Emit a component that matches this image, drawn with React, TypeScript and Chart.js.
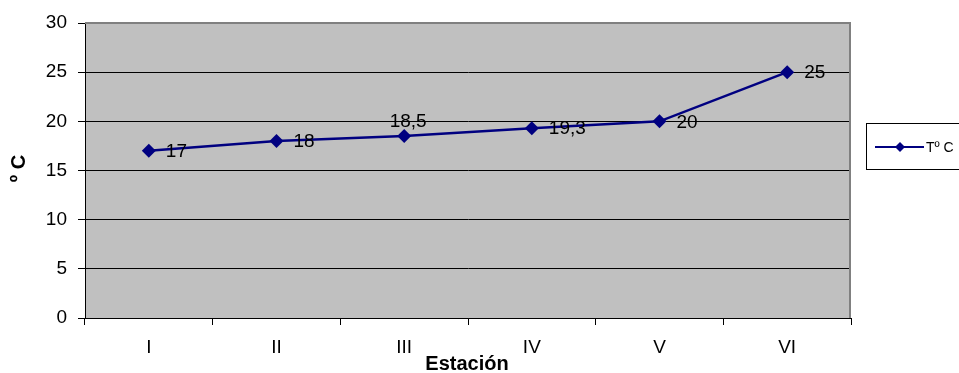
import React, { useEffect, useRef } from 'react';
import { Chart, registerables } from 'chart.js';

Chart.register(...registerables);

// ---- Data ----
const categories = ['I', 'II', 'III', 'IV', 'V', 'VI'];
const temperatures = [17, 18, 18.5, 19.3, 20, 25];
const valueLabels = ['17', '18', '18,5', '19,3', '20', '25'];
const yMin = 0;
const yMax = 30;
const yStep = 5;
const seriesName = 'Tº C';
const xTitle = 'Estación';
const yTitle = 'º C';

const FONT = '"Liberation Sans", Arial, Helvetica, sans-serif';
const NAVY = '#000080';

function drawDiamond(ctx: CanvasRenderingContext2D, x: number, y: number, r: number) {
  ctx.beginPath();
  ctx.moveTo(x, y - r);
  ctx.lineTo(x + r, y);
  ctx.lineTo(x, y + r);
  ctx.lineTo(x - r, y);
  ctx.closePath();
  ctx.fill();
}

const decorPlugin = {
  id: 'decor',
  beforeDraw(chart: any) {
    const { ctx, chartArea: a } = chart;
    ctx.save();
    ctx.fillStyle = '#ffffff';
    ctx.fillRect(0, 0, chart.width, chart.height);
    ctx.fillStyle = '#C0C0C0';
    ctx.fillRect(a.left, a.top, a.right - a.left, a.bottom - a.top);
    ctx.restore();
  },
  beforeDatasetsDraw(chart: any) {
    const { ctx, chartArea: a } = chart;
    ctx.save();
    ctx.strokeStyle = '#808080';
    ctx.lineWidth = 2;
    ctx.beginPath();
    ctx.moveTo(a.left, a.top);
    ctx.lineTo(a.right - 1, a.top);
    ctx.lineTo(a.right - 1, a.bottom);
    ctx.stroke();
    ctx.restore();
  },
  afterDatasetsDraw(chart: any) {
    const { ctx, chartArea: a } = chart;
    const meta = chart.getDatasetMeta(0);
    ctx.save();
    // data labels
    ctx.fillStyle = '#000';
    ctx.font = `19px ${FONT}`;
    ctx.textBaseline = 'middle';
    meta.data.forEach((pt: any, i: number) => {
      const label = valueLabels[i];
      if (i === 2) {
        ctx.textAlign = 'center';
        ctx.fillText(label, pt.x + 4, pt.y - 14);
      } else {
        ctx.textAlign = 'left';
        ctx.fillText(label, pt.x + 17, pt.y + 1);
      }
    });

    // axis titles
    ctx.font = `bold 20px ${FONT}`;
    ctx.textAlign = 'center';
    ctx.textBaseline = 'middle';
    ctx.fillText(xTitle, (a.left + a.right) / 2 - 1, 364);
    ctx.save();
    ctx.translate(19, (a.top + a.bottom) / 2 - 2);
    ctx.rotate(-Math.PI / 2);
    ctx.font = `bold 20px ${FONT}`;
    ctx.fillText(yTitle, 0, 0);
    ctx.restore();

    // legend
    ctx.strokeStyle = '#000';
    ctx.lineWidth = 1;
    ctx.strokeRect(866.5, 123.5, 100, 46);
    ctx.strokeStyle = NAVY;
    ctx.lineWidth = 2;
    ctx.beginPath();
    ctx.moveTo(875, 147);
    ctx.lineTo(924, 147);
    ctx.stroke();
    ctx.fillStyle = NAVY;
    drawDiamond(ctx, 900, 147, 5);
    ctx.fillStyle = '#000';
    ctx.font = `14px ${FONT}`;
    ctx.textAlign = 'left';
    ctx.textBaseline = 'middle';
    ctx.fillText(seriesName, 926, 148);
    ctx.restore();
  },
};

export default function App() {
  const ref = useRef<HTMLCanvasElement>(null);
  useEffect(() => {
    document.body.style.margin = '0';
    const canvas = ref.current!;
    const chart = new Chart(canvas, {
      type: 'line',
      data: {
        labels: categories,
        datasets: [
          {
            label: seriesName,
            data: temperatures,
            borderColor: NAVY,
            backgroundColor: NAVY,
            borderWidth: 2.5,
            pointStyle: 'rectRot',
            pointRadius: 7,
            pointBackgroundColor: NAVY,
            pointBorderColor: NAVY,
            pointBorderWidth: 0,
            tension: 0,
            fill: false,
          },
        ],
      },
      options: {
        responsive: false,
        animation: false,
        devicePixelRatio: 1,
        layout: { padding: { top: 23, right: 108, left: 0, bottom: 0 } },
        plugins: {
          legend: { display: false },
          tooltip: { enabled: false },
          title: { display: false },
        },
        scales: {
          x: {
            type: 'category',
            offset: true,
            grid: {
              offset: true,
              drawOnChartArea: false,
              drawTicks: true,
              tickLength: 7,
              color: '#000',
            },
            border: { display: true, color: '#000', width: 1 },
            ticks: {
              color: '#000',
              font: { family: FONT, size: 19 },
              padding: 11,
              maxRotation: 0,
            },
            afterFit: (scale: any) => {
              scale.height = 55;
            },
          },
          y: {
            min: yMin,
            max: yMax,
            ticks: {
              stepSize: yStep,
              color: '#000',
              font: { family: FONT, size: 19 },
              padding: 11,
            },
            grid: {
              color: '#000',
              lineWidth: 1,
              drawTicks: true,
              tickLength: 7,
            },
            border: { display: true, color: '#000', width: 1 },
            afterFit: (scale: any) => {
              scale.width = 85;
            },
          },
        },
      },
      plugins: [decorPlugin],
    });
    return () => chart.destroy();
  }, []);

  return (
    <div style={{ position: 'fixed', left: 0, top: 0, width: 959, height: 373 }}>
      <canvas ref={ref} width={959} height={373} style={{ display: 'block' }} />
    </div>
  );
}
